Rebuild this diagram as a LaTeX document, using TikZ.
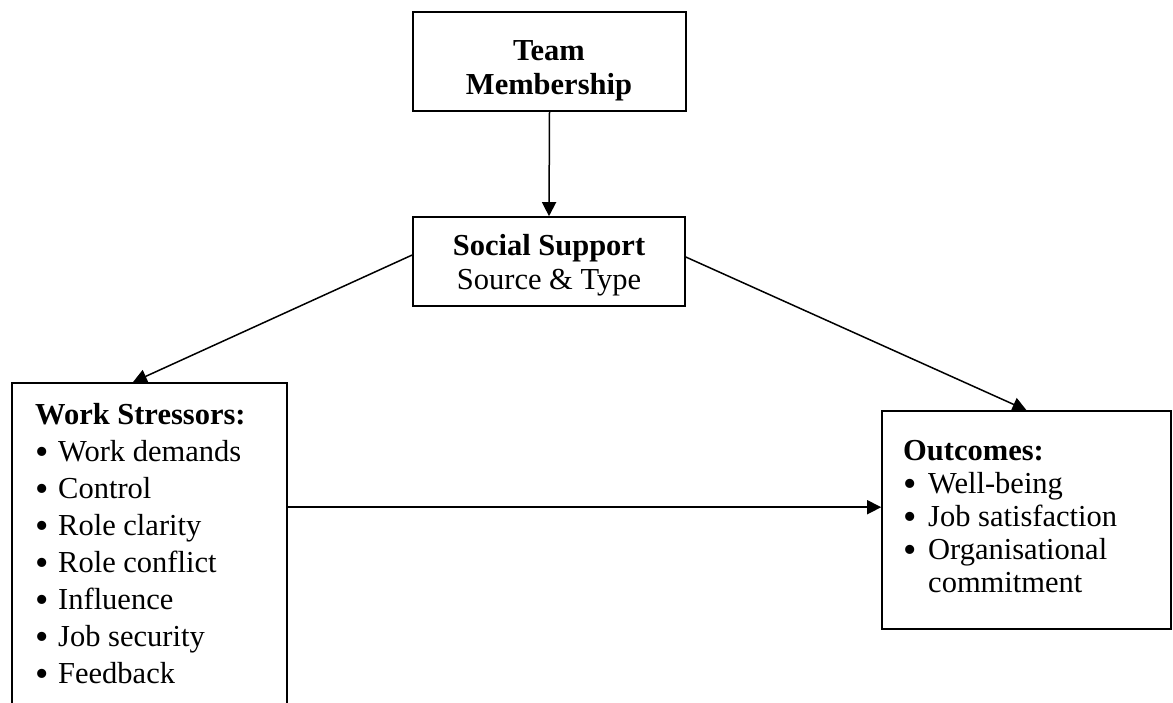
\documentclass[tikz,border=0pt]{standalone}
\usepackage{fontspec}
\setmainfont{Liberation Serif}
\usetikzlibrary{arrows.meta,calc}
\newcommand{\bul}[1]{\makebox[#1][l]{\smash{\raisebox{-3.5pt}{\scalebox{1.25}{\textbullet}}}}}
\begin{document}
\begin{tikzpicture}[x=1pt,y=-1pt,
  box/.style={draw, line width=1.6pt, inner sep=0pt, rectangle},
  arr/.style={line width=1.5pt, -{Triangle[length=14pt,width=14pt]}},
  txt/.style={inner sep=0pt, align=left},
  ctxt/.style={inner sep=0pt, align=center}]
\clip (0,0) rectangle (1173,702);
\fill[white] (0,0) rectangle (1173,702);
% boxes
\node[box, minimum width=273pt, minimum height=99pt] (tm) at (549.5,61.5) {};
\node[box, minimum width=272pt, minimum height=89pt] (ss) at (549,261.5) {};
\node[box, minimum width=275pt, minimum height=360pt] (ws) at (149.5,563) {};
\node[box, minimum width=289pt, minimum height=218pt] (oc) at (1026.5,520) {};
% texts
\node[ctxt, anchor=base, font=\fontsize{30.5}{34}\selectfont] (tmt) at (549,94)
  {\textbf{Team}\\\textbf{Membership}};
\node[ctxt, anchor=base, font=\fontsize{30.5}{34}\selectfont] (sst) at (549,289)
  {\textbf{Social Support}\\Source \& Type};
\node[txt, anchor=base west, font=\fontsize{30.5}{37}\selectfont] (wst) at (35,683)
  {\textbf{Work Stressors:}\\
   \bul{23pt}Work demands\\ \bul{23pt}Control\\ \bul{23pt}Role clarity\\
   \bul{23pt}Role conflict\\ \bul{23pt}Influence\\ \bul{23pt}Job security\\
   \bul{23pt}Feedback};
\node[txt, anchor=base west, font=\fontsize{30.5}{33}\selectfont] (oct) at (903,592)
  {\textbf{Outcomes:}\\
   \bul{25pt}Well-being\\ \bul{25pt}Job satisfaction\\ \bul{25pt}Organisational\\
   \hspace*{25pt}commitment};
% connectors
\draw[arr] (tm.south) -- (ss.north);
\draw[arr] ([yshift=6.5pt]ss.west) -- ($(ws.north west)!0.44!(ws.north east)$);
\draw[arr] ([yshift=4.5pt]ss.east) -- (oc.north);
\draw[arr] ([yshift=-125pt]ws.north east) coordinate (h1) -- (h1 -| oc.west);
\end{tikzpicture}
\end{document}
